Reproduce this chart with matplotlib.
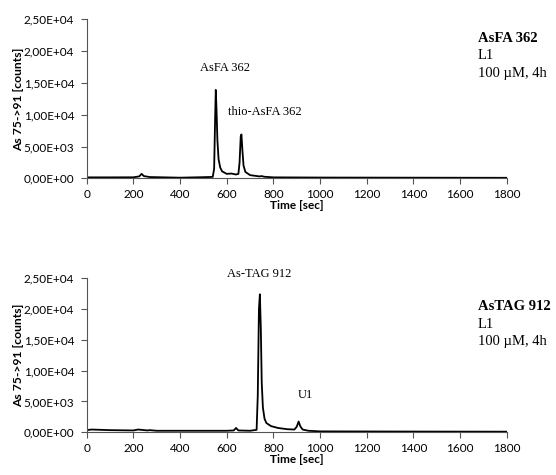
import numpy as np
import matplotlib.pyplot as plt
from matplotlib.ticker import FuncFormatter, MultipleLocator

# top chromatogram: AsFA 362
t_fa = [0, 100, 200, 225, 235, 245, 270, 400, 500, 540, 546, 550, 553, 556, 560, 565, 572, 580,
        600, 620, 640, 650, 655, 660, 663, 667, 672, 680, 700, 740, 750, 760, 800, 1000, 1400, 1800]
c_fa = [150, 150, 160, 300, 700, 350, 200, 100, 180, 220, 1500, 9000, 13900, 11000, 6000, 3000, 1700, 1100,
        700, 750, 600, 700, 2500, 6600, 6900, 4500, 2000, 1000, 500, 300, 350, 250, 150, 120, 100, 80]

# bottom chromatogram: AsTAG 912
t_tag = [0, 20, 100, 200, 220, 260, 270, 300, 400, 600, 630, 640, 650, 700, 728, 733, 738, 742, 746,
         750, 755, 762, 770, 790, 820, 860, 890, 900, 908, 915, 925, 950, 1000, 1400, 1800]
c_tag = [350, 450, 350, 300, 450, 300, 350, 250, 250, 250, 300, 700, 300, 250, 400, 6000, 20000, 22400, 17000,
         8000, 4000, 2200, 1500, 1000, 700, 500, 450, 900, 1750, 1000, 450, 250, 150, 120, 100]

peaks_fa = [("AsFA 362", 593, 17340), ("thio-AsFA 362", 764, 10470)]
peaks_tag = [("As-TAG 912", 740, 25650), ("U1", 938, 6055)]

sans = "Lato"
serif = "Liberation Serif"

fig = plt.figure(figsize=(5.56, 4.75), dpi=100)
ax1 = fig.add_axes([0.156, 0.6246, 0.7554, 0.3347])
ax2 = fig.add_axes([0.156, 0.0899, 0.7554, 0.3242])

fmt = FuncFormatter(lambda v, p: f"{v:.2E}".replace(".", ","))

for ax, t, c, peaks in [(ax1, t_fa, c_fa, peaks_fa), (ax2, t_tag, c_tag, peaks_tag)]:
    ax.plot(t, c, color="black", lw=1.3)
    ax.set_xlim(0, 1800)
    ax.set_ylim(0, 25000)
    ax.xaxis.set_major_locator(MultipleLocator(200))
    ax.yaxis.set_major_locator(MultipleLocator(5000))
    ax.yaxis.set_major_formatter(fmt)
    for s in ["top", "right"]:
        ax.spines[s].set_visible(False)
    for s in ["left", "bottom"]:
        ax.spines[s].set_color("#555555")
        ax.spines[s].set_linewidth(0.8)
    ax.tick_params(direction="out", length=4, width=0.8, color="#555555", labelsize=8.5)
    ax.tick_params(axis="y", pad=5)
    ax.tick_params(axis="x", pad=4)
    for lab in ax.get_xticklabels() + ax.get_yticklabels():
        lab.set_fontfamily(sans)
    ax.set_xlabel("Time [sec]", fontsize=8.5, fontweight="bold", fontfamily=sans, labelpad=0)
    ax.set_ylabel("As 75->91 [counts]", fontsize=8.7, fontweight="bold", fontfamily=sans)
    ax.yaxis.set_label_coords(-0.149, 0.5)
    for name, x, y in peaks:
        ax.text(x, y, name, ha="center", va="center", fontsize=9, fontfamily=serif, clip_on=False)

for lines, y0 in [(("AsFA 362", "L1", "100 µM, 4h"), 38), (("AsTAG 912", "L1", "100 µM, 4h"), 307)]:
    for i, s in enumerate(lines):
        fig.text(477.5 / 556, 1 - (y0 + i * 17.5) / 475, s, ha="left", va="center", fontsize=10.5,
                 fontfamily=serif, fontweight="bold" if i == 0 else "normal")

fig.savefig("out.png", dpi=100)
